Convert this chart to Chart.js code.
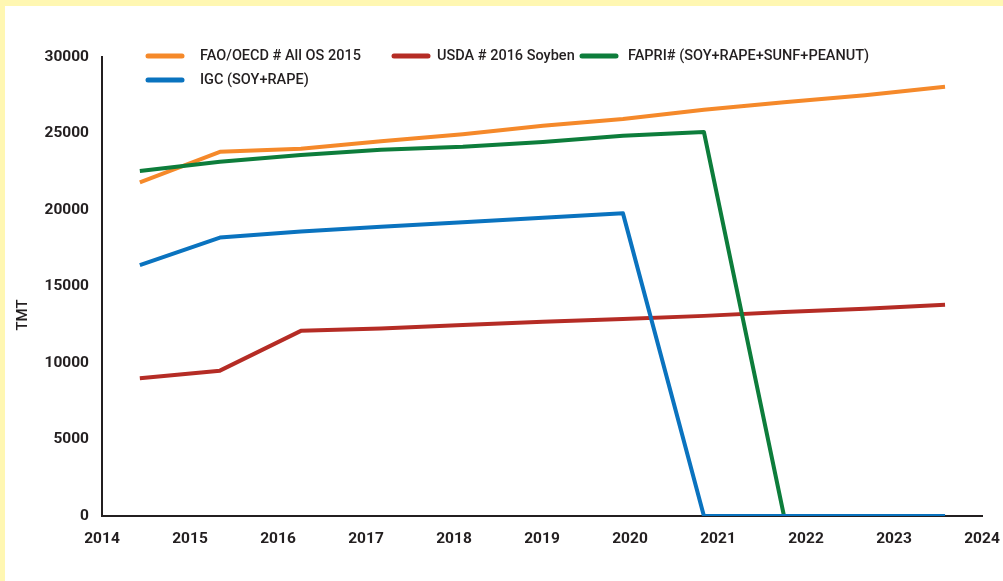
<!DOCTYPE html>
<html>
<head>
<meta charset="utf-8">
<script src="https://cdn.jsdelivr.net/npm/chart.js@4/dist/chart.umd.min.js"></script>
<style>
  html, body { margin: 0; padding: 0; background: #fff; }
  #wrap { position: relative; width: 1003px; height: 581px; }
  canvas { display: block; }
</style>
</head>
<body>
<div id="wrap"><canvas id="c" width="1003" height="581"></canvas></div>
<script>
// Projection years (x positions of each estimate)
const years = [2014.43, 2015.34, 2016.26, 2017.17, 2018.10, 2019.01, 2019.92, 2020.84, 2021.75, 2022.67, 2023.58];

// Oilseed estimates, thousand metric tons
const faoOecd = [21800, 23800, 24000, 24500, 24950, 25500, 25950, 26550, 27050, 27500, 28050];
const usda    = [ 9000,  9500, 12100, 12250, 12480, 12700, 12880, 13080, 13330, 13550, 13800];
const fapri   = [22550, 23150, 23600, 23930, 24130, 24450, 24850, 25100,     0,     0,     0];
const igc     = [16400, 18200, 18600, 18900, 19200, 19500, 19780,     0,     0,     0,     0];

const seriesNames = ['FAO/OECD # All OS 2015', 'USDA # 2016 Soyben', 'FAPRI# (SOY+RAPE+SUNF+PEANUT)', 'IGC (SOY+RAPE)'];
const seriesColors = ['#f5892a', '#b52c25', '#0d7d3b', '#0a73bf'];

const xTicks = [2014, 2015, 2016, 2017, 2018, 2019, 2020, 2021, 2022, 2023, 2024];
const yTicks = [0, 5000, 10000, 15000, 20000, 25000, 30000];
const yTitle = 'TMT';

const INK = '#231f20';
const FONT = 'Roboto, "DejaVu Sans", sans-serif';

function pts(vals) { return vals.map((v, i) => ({ x: years[i], y: v })); }

const seriesValues = [faoOecd, usda, fapri, igc];
const datasets = seriesValues.map((vals, i) => ({
  label: seriesNames[i],
  data: pts(vals),
  borderColor: seriesColors[i],
  backgroundColor: seriesColors[i],
  borderWidth: 4,
  pointRadius: 0,
  tension: 0,
  borderJoinStyle: 'round',
  order: 4 - i
}));

// Frame: pale yellow strip along the top and left edges
const framePlugin = {
  id: 'frame',
  beforeDraw(chart) {
    const ctx = chart.ctx;
    ctx.save();
    ctx.fillStyle = '#fff7b2';
    ctx.fillRect(0, 0, chart.width, chart.height);
    ctx.fillStyle = '#ffffff';
    ctx.fillRect(5, 6, chart.width - 5, chart.height - 6);
    ctx.restore();
  }
};

// Two-row legend laid over the top of the plot, plus the rotated axis title
const legendPlugin = {
  id: 'topLegend',
  afterDraw(chart) {
    const ctx = chart.ctx;
    const slots = [
      { sx: 148, tx: 200, y: 56 },
      { sx: 394, tx: 437, y: 56 },
      { sx: 582, tx: 628, y: 56 },
      { sx: 148, tx: 200, y: 80 }
    ];
    ctx.save();
    chart.data.datasets.forEach((ds, i) => {
      const s = slots[i];
      ctx.strokeStyle = ds.borderColor;
      ctx.lineWidth = 5;
      ctx.lineCap = 'round';
      ctx.beginPath();
      ctx.moveTo(s.sx, s.y);
      ctx.lineTo(s.sx + 34, s.y);
      ctx.stroke();
      ctx.fillStyle = INK;
      ctx.font = '500 14.5px ' + FONT;
      ctx.textBaseline = 'middle';
      ctx.textAlign = 'left';
      ctx.fillText(ds.label, s.tx, s.y);
    });
    ctx.translate(23, 315);
    ctx.rotate(-Math.PI / 2);
    ctx.font = '500 15px ' + FONT;
    ctx.textAlign = 'center';
    ctx.textBaseline = 'middle';
    ctx.fillStyle = INK;
    ctx.fillText(yTitle, 0, 0);
    ctx.restore();
  }
};

new Chart(document.getElementById('c'), {
  type: 'line',
  data: { datasets },
  options: {
    responsive: false,
    animation: false,
    events: [],
    layout: { padding: { left: 0, right: 21, top: 57, bottom: 0 } },
    plugins: { legend: { display: false }, tooltip: { enabled: false } },
    scales: {
      x: {
        type: 'linear',
        min: 2014,
        max: 2024,
        afterBuildTicks(s) { s.ticks = xTicks.map(v => ({ value: v })); },
        afterFit(s) { s.height = 65; s.paddingLeft = 0; s.paddingRight = 0; },
        grid: { display: false, drawTicks: false },
        border: { display: true, color: INK, width: 2 },
        ticks: {
          color: INK,
          padding: 14,
          maxRotation: 0,
          autoSkip: false,
          font: { family: FONT, size: 15.5, weight: 'bold' },
          callback: v => String(v)
        }
      },
      y: {
        type: 'linear',
        min: 0,
        max: 30000,
        afterBuildTicks(s) { s.ticks = yTicks.map(v => ({ value: v })); },
        afterFit(s) { s.width = 102; s.paddingTop = 0; s.paddingBottom = 0; },
        grid: { display: false, drawTicks: false },
        border: { display: true, color: INK, width: 2 },
        ticks: {
          color: INK,
          padding: 13,
          font: { family: FONT, size: 15.5, weight: 'bold' },
          callback: v => String(v)
        }
      }
    }
  },
  plugins: [framePlugin, legendPlugin]
});
</script>
</body>
</html>
